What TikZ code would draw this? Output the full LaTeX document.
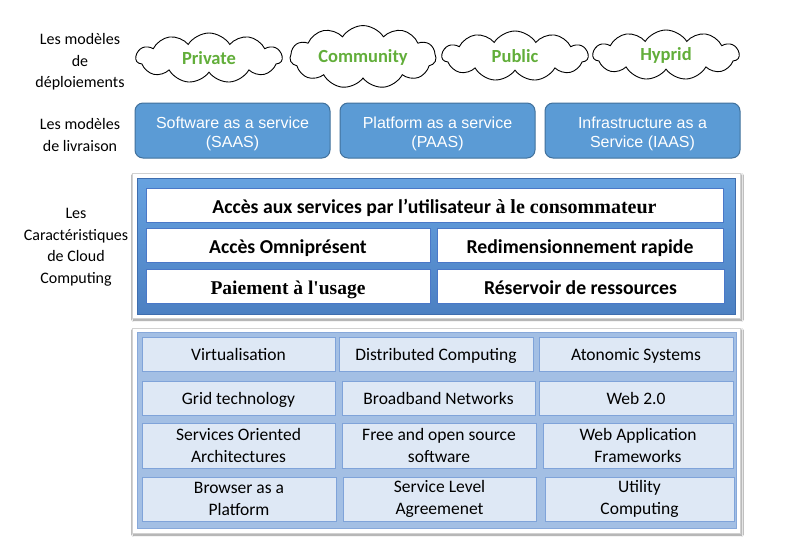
\documentclass[tikz,border=0pt]{standalone}
\usepackage{fontspec}
\setmainfont{Carlito}
\newfontfamily\calfont{Carlito}
\newfontfamily\arifont{Liberation Sans}
\newfontfamily\tmsfont{Liberation Serif}
\usetikzlibrary{shapes.symbols,shadows.blur}
\definecolor{boxblue}{HTML}{5B9BD5}
\definecolor{boxborder}{HTML}{41719C}
\definecolor{chartop}{HTML}{66A2E0}
\definecolor{charbot}{HTML}{4C80C2}
\definecolor{charborder}{HTML}{3E6DAE}
\definecolor{wborder}{HTML}{4A78C8}
\definecolor{framefill}{HTML}{A3BFE4}
\definecolor{frameborder}{HTML}{87A8DA}
\definecolor{cellfill}{HTML}{DEE8F5}
\definecolor{cellborder}{HTML}{7FA3D9}
\definecolor{cloudgreen}{HTML}{62AE3A}
\tikzset{
  lbl/.style={align=center,font=\calfont\fontsize{16}{21.5}\selectfont,inner sep=0pt},
  cloudnode/.style={cloud,cloud puffs=11,cloud puff arc=115,aspect=2.8,draw=black,line width=0.9pt,fill=white,
    minimum width=146pt,minimum height=50pt,inner sep=0pt,
    font=\calfont\bfseries\fontsize{18.5}{22}\selectfont,text=cloudgreen},
  svcbox/.style={draw=boxborder,line width=1pt,fill=boxblue,rounded corners=8pt,inner sep=0pt,
    minimum width=195pt,minimum height=55pt},
  svctext/.style={align=center,text=white,inner sep=0pt,
    font=\arifont\fontsize{16}{19}\selectfont},
  panel/.style={draw=black!18,fill=white,inner sep=0pt,
    blur shadow={shadow blur steps=6,shadow xshift=1.5pt,shadow yshift=-2pt,shadow opacity=45}},
  charpanel/.style={draw=charborder,line width=1pt,top color=chartop,bottom color=charbot,inner sep=0pt},
  wbox/.style={draw=wborder,line width=1pt,fill=white,inner sep=0pt,minimum height=34pt,
    text height=17pt,text depth=1pt,
    font=\calfont\bfseries\fontsize{19.7}{22}\selectfont},
  framebox/.style={draw=frameborder,line width=1pt,fill=framefill,inner sep=0pt},
  cell/.style={draw=cellborder,line width=1pt,fill=cellfill,inner sep=0pt,align=center,
    font=\calfont\fontsize{17.5}{21.5}\selectfont},
  one/.style={text height=13pt,text depth=1pt},
}
\begin{document}
\begin{tikzpicture}[x=1pt,y=-1pt]
\useasboundingbox[fill=white] (0,0) rectangle (809,558);
% left labels
\node[lbl] (l1) at (80,62) {Les modèles\\de\\déploiements};
\node[lbl] (l2) at (80,135) {Les modèles\\de livraison};
\node[lbl] (l3) at (76,247) {Les\\Caractéristiques\\de Cloud\\Computing};
% clouds
\node[cloudnode] (c1) at (209,58) {Private};
\node[cloudnode] (c2) at (363,57) {Community};
\node[cloudnode] (c3) at (515,56) {Public};
\node[cloudnode] (c4) at (666,55) {Hyprid};
% service models
\node[svcbox] (s1) at (232.5,130.5) {};
\node[svcbox] (s2) at (437.5,130.5) {};
\node[svcbox] (s3) at (642.5,130.5) {};
\node[svctext] (s1t) at ([yshift=-3.5pt]s1.center) {Software as a service\\(SAAS)};
\node[svctext] (s2t) at ([yshift=-3.5pt]s2.center) {Platform as a service\\(PAAS)};
\node[svctext] (s3t) at ([yshift=-3.5pt]s3.center) {Infrastructure as a\\Service (IAAS)};
% characteristics panel
\node[panel,minimum width=608pt,minimum height=145pt] (cp) at (436,245.5) {};
\node[charpanel,minimum width=598pt,minimum height=136pt] (cb) at (436,246) {};
\node[wbox,minimum width=577pt] (r1) at (434.5,205) {Accès aux services par l’utilisateur {\tmsfont\bfseries\fontsize{20}{22}\selectfont à le consommateur}};
\node[wbox,minimum width=284pt] (r2a) at (288,245.5) {Accès Omniprésent};
\node[wbox,minimum width=286pt] (r2b) at (580,245.5) {Redimensionnement rapide};
\node[wbox,minimum width=284pt,font=\tmsfont\bfseries\fontsize{19.5}{22}\selectfont] (r3a) at (288,286.5) {Paiement à l'usage};
\node[wbox,minimum width=287pt] (r3b) at (580.5,286.5) {Réservoir de ressources};
% technologies panel
\node[panel,minimum width=608pt,minimum height=205pt] (tp) at (436,430.5) {};
\node[framebox,minimum width=599pt,minimum height=196pt] (tf) at (436.5,430) {};
\node[cell,one,minimum width=193pt,minimum height=34pt] (t11) at (238.5,354) {Virtualisation};
\node[cell,one,minimum width=194pt,minimum height=34pt] (t12) at (436,354) {Distributed Computing};
\node[cell,one,minimum width=194pt,minimum height=34pt] (t13) at (636,354) {Atonomic Systems};
\node[cell,one,minimum width=193pt,minimum height=34pt] (t21) at (238.5,398) {Grid technology};
\node[cell,one,minimum width=193pt,minimum height=34pt] (t22) at (438.5,398) {Broadband Networks};
\node[cell,one,minimum width=194pt,minimum height=34pt] (t23) at (636,398) {Web 2.0};
\node[cell,minimum width=193pt,minimum height=45pt] (t31) at (238.5,445.5) {Services Oriented\\Architectures};
\node[cell,minimum width=194pt,minimum height=45pt] (t32) at (439,445.5) {Free and open source\\software};
\node[cell,minimum width=190pt,minimum height=45pt] (t33) at (638,445.5) {Web Application\\Frameworks};
\node[cell,minimum width=194pt,minimum height=44pt] (t41) at (239,499) {Browser as a\\Platform};
\node[cell,minimum width=193pt,minimum height=44pt] (t42) at (439.5,499) {Service Level\\Agreemenet};
\node[cell,minimum width=189pt,minimum height=44pt] (t43) at (639.5,499) {Utility\\Computing};
\end{tikzpicture}
\end{document}
